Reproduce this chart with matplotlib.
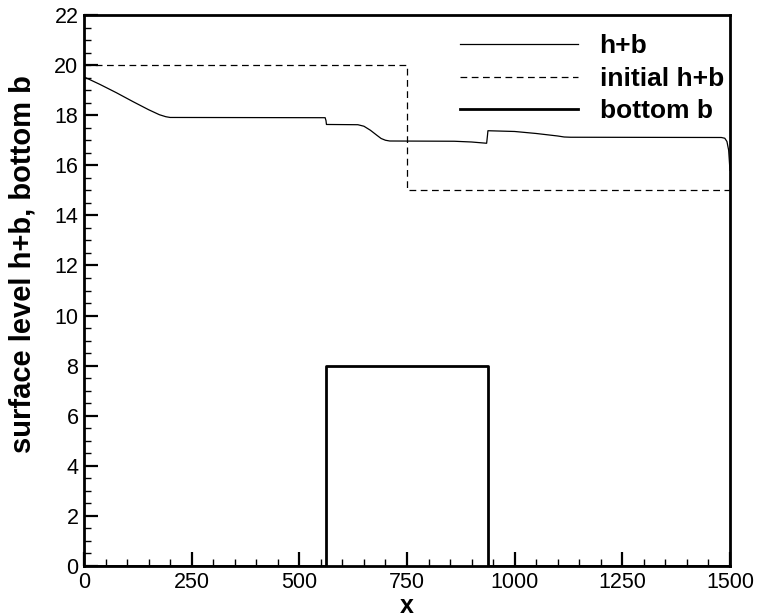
import matplotlib
matplotlib.use("Agg")
import matplotlib.pyplot as plt
from matplotlib.ticker import MultipleLocator

plt.rcParams["font.family"] = ["Liberation Sans", "DejaVu Sans"]

# surface level h+b at the output time
surf_x = [0, 37, 75, 114, 150, 175, 190, 200, 560, 562, 563, 636, 650, 665, 680,
          690, 700, 710, 860, 900, 935, 937, 938, 1000, 1050, 1100, 1115, 1130,
          1480, 1488, 1493, 1497, 1500]
surf_y = [19.53, 19.23, 18.9, 18.54, 18.22, 18.02, 17.94, 17.91, 17.9, 17.78, 17.63,
          17.62, 17.56, 17.4, 17.2, 17.07, 17.0, 16.97, 16.96, 16.93, 16.88, 17.2,
          17.38, 17.35, 17.27, 17.17, 17.13, 17.12, 17.11, 17.08, 16.95, 16.6, 15.8]

# initial surface (dam break)
init_x = [0, 750, 750, 1500]
init_y = [20, 20, 15, 15]

# bottom topography
bed_x = [0, 562.5, 562.5, 937.5, 937.5, 1500]
bed_y = [0, 0, 8, 8, 0, 0]

fig = plt.figure(figsize=(7.58, 6.16), dpi=100)
ax = fig.add_axes([0.1108, 0.0812, 0.8522, 0.8944])

ax.plot(surf_x, surf_y, color="black", lw=0.9, label="h+b")
ax.plot(init_x, init_y, color="black", lw=0.9, ls=(0, (5.4, 3.6)), label="initial h+b")
ax.plot(bed_x, bed_y, color="black", lw=2.0, label="bottom b")

ax.set_xlim(0, 1500)
ax.set_ylim(0, 22)
ax.xaxis.set_major_locator(MultipleLocator(250))
ax.xaxis.set_minor_locator(MultipleLocator(50))
ax.yaxis.set_major_locator(MultipleLocator(2))
ax.yaxis.set_minor_locator(MultipleLocator(0.5))
ax.tick_params(which="both", direction="in", top=False, right=False,
               labelsize=15.5, width=1.6, pad=4)
ax.tick_params(which="major", length=10)
ax.tick_params(which="minor", length=5, width=1.0)
for sp in ax.spines.values():
    sp.set_linewidth(2.0)

ax.set_xlabel("x", fontsize=18, fontweight="bold")
ax.xaxis.set_label_coords(0.5, -0.05)
ax.set_ylabel("surface level h+b, bottom b", fontsize=21, fontweight="bold")
ax.yaxis.set_label_coords(-0.074, 0.548)

ax.legend(loc="upper right", bbox_to_anchor=(1.017, 0.996), frameon=False,
          prop={"size": 19, "weight": "bold"}, handlelength=4.5,
          handletextpad=0.8, labelspacing=0.32, borderaxespad=0.25)

fig.savefig("out.png", dpi=100)
